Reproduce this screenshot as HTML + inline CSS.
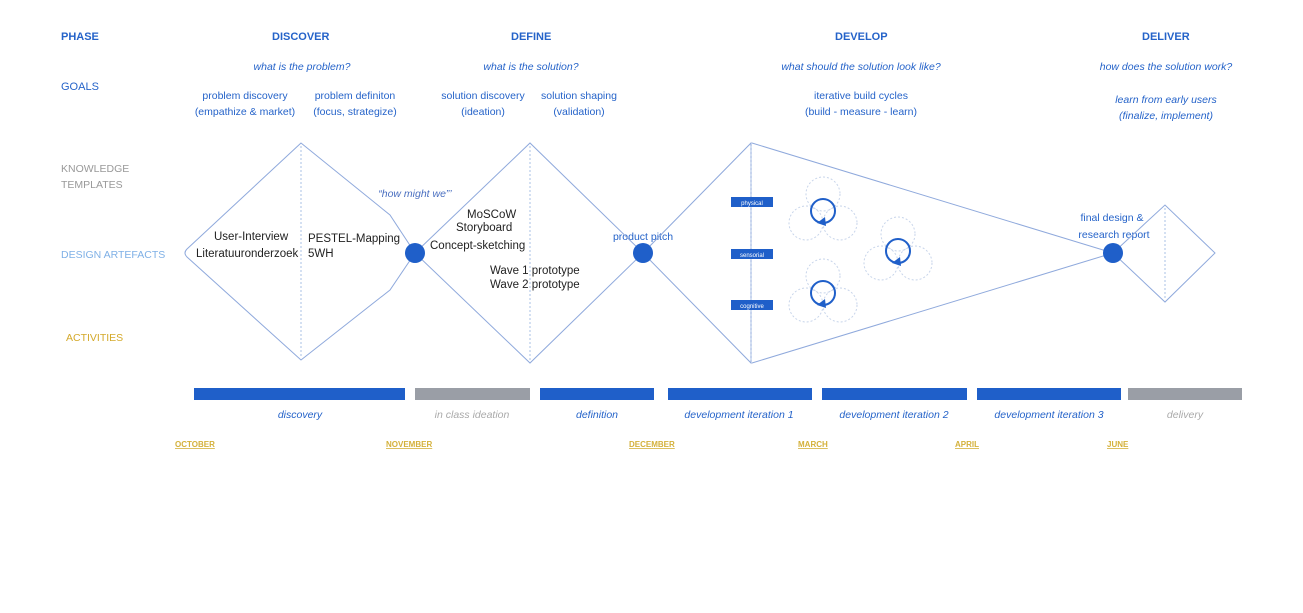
<!DOCTYPE html>
<html><head><meta charset="utf-8"><style>
body{margin:0;background:#fff;width:1303px;height:613px;overflow:hidden}
svg{display:block}
text{font-family:"Liberation Sans",sans-serif}
</style></head><body>
<svg width="1303" height="613" viewBox="0 0 1303 613" xmlns="http://www.w3.org/2000/svg">
<g font-size="11" fill="#2563c9">
<text x="61" y="40" font-weight="bold">PHASE</text>
<text x="272" y="40" font-weight="bold">DISCOVER</text>
<text x="511" y="40" font-weight="bold">DEFINE</text>
<text x="835" y="40" font-weight="bold">DEVELOP</text>
<text x="1142" y="40" font-weight="bold">DELIVER</text>
<text x="61" y="90">GOALS</text>
</g>
<g font-size="10.5" fill="#2563c9" font-style="italic" text-anchor="middle">
<text x="302" y="70">what is the problem?</text>
<text x="531" y="70">what is the solution?</text>
<text x="861" y="70">what should the solution look like?</text>
<text x="1166" y="70">how does the solution work?</text>
<text x="1166" y="103">learn from early users</text>
<text x="1166" y="119">(finalize, implement)</text>
<text x="415" y="197" fill="#4a6fc0">“how might we”’</text>
</g>
<g font-size="10.5" fill="#2563c9" text-anchor="middle">
<text x="245" y="99">problem discovery</text>
<text x="245" y="115">(empathize &amp; market)</text>
<text x="355" y="99">problem definiton</text>
<text x="355" y="115">(focus, strategize)</text>
<text x="483" y="99">solution discovery</text>
<text x="483" y="115">(ideation)</text>
<text x="579" y="99">solution shaping</text>
<text x="579" y="115">(validation)</text>
<text x="861" y="99">iterative build cycles</text>
<text x="861" y="115">(build - measure - learn)</text>
<text x="643" y="240">product pitch</text>
<text x="1112" y="221">final design &amp;</text>
<text x="1114" y="238">research report</text>
</g>
<g font-size="10.5" fill="#999">
<text x="61" y="172">KNOWLEDGE</text>
<text x="61" y="188">TEMPLATES</text>
</g>
<text x="61" y="258" font-size="10.5" fill="#7fb0e6">DESIGN ARTEFACTS</text>
<text x="66" y="341" font-size="10.5" fill="#d4a92a">ACTIVITIES</text>
<g fill="none" stroke="#8fa9dc" stroke-width="1">
<path d="M301,143 L187,249 Q183,253 187,257 L301,360 L390,290 L415,253 L390,215 Z"/>
<path d="M415,253 L530,143 L643,253 L530,363 Z"/>
<path d="M643,253 L751,143 L751,363 Z"/>
<path d="M752,143 L1113,253 L752,363"/>
<path d="M1113,253 L1165,205 L1215,253 L1165,302 Z"/>
</g>
<g stroke="#a9c0e6" stroke-dasharray="2,2" stroke-width="1">
<line x1="301" y1="146" x2="301" y2="358"/>
<line x1="530" y1="146" x2="530" y2="360"/>
<line x1="751" y1="146" x2="751" y2="360"/>
<line x1="1165" y1="208" x2="1165" y2="299"/>
</g>
<g fill="#1f5fc9">
<circle cx="415" cy="253" r="10"/><circle cx="643" cy="253" r="10"/><circle cx="1113" cy="253" r="10"/>
<rect x="731" y="197" width="42" height="10"/><rect x="731" y="249" width="42" height="10"/><rect x="731" y="300" width="42" height="10"/>
</g>
<g font-size="6" fill="#fff" text-anchor="middle">
<text x="752" y="205">physical</text><text x="752" y="257">sensorial</text><text x="752" y="308">cognitive</text>
</g>
<g id="c1">
<g fill="none" stroke="#c7d4ea" stroke-dasharray="2,2">
<circle cx="823" cy="194" r="17"/><circle cx="806" cy="223" r="17"/><circle cx="840" cy="223" r="17"/>
</g>
<circle cx="823" cy="211" r="12" fill="none" stroke="#1f5fc9" stroke-width="2"/>
<path d="M817,223 L825,217 L826,226 Z" fill="#1f5fc9"/>
</g>
<use href="#c1" x="75" y="40"/>
<use href="#c1" x="0" y="82"/>
<g>
<rect x="194" y="388" width="211" height="12" fill="#1f5fc9"/>
<rect x="415" y="388" width="115" height="12" fill="#9a9ea6"/>
<rect x="540" y="388" width="114" height="12" fill="#1f5fc9"/>
<rect x="668" y="388" width="144" height="12" fill="#1f5fc9"/>
<rect x="822" y="388" width="145" height="12" fill="#1f5fc9"/>
<rect x="977" y="388" width="144" height="12" fill="#1f5fc9"/>
<rect x="1128" y="388" width="114" height="12" fill="#9a9ea6"/>
</g>
<g font-size="10.5" font-style="italic" text-anchor="middle" fill="#2563c9">
<text x="300" y="418">discovery</text>
<text x="472" y="418" fill="#aaa">in class ideation</text>
<text x="597" y="418">definition</text>
<text x="739" y="418">development iteration 1</text>
<text x="894" y="418">development iteration 2</text>
<text x="1049" y="418">development iteration 3</text>
<text x="1185" y="418" fill="#aaa">delivery</text>
</g>
<g font-size="8" font-weight="bold" fill="#d4b13a" text-decoration="underline">
<text x="175" y="447">OCTOBER</text><text x="386" y="447">NOVEMBER</text><text x="629" y="447">DECEMBER</text>
<text x="798" y="447">MARCH</text><text x="955" y="447">APRIL</text><text x="1107" y="447">JUNE</text>
</g>
<g font-size="11.5" fill="#222">
<text x="214" y="240">User-Interview</text>
<text x="196" y="257">Literatuuronderzoek</text>
<text x="308" y="242">PESTEL-Mapping</text>
<text x="308" y="257">5WH</text>
<text x="467" y="218">MoSCoW</text>
<text x="456" y="231">Storyboard</text>
<text x="430" y="249">Concept-sketching</text>
<text x="490" y="274">Wave 1 prototype</text>
<text x="490" y="288">Wave 2 prototype</text>
</g>
</svg>
</body></html>
